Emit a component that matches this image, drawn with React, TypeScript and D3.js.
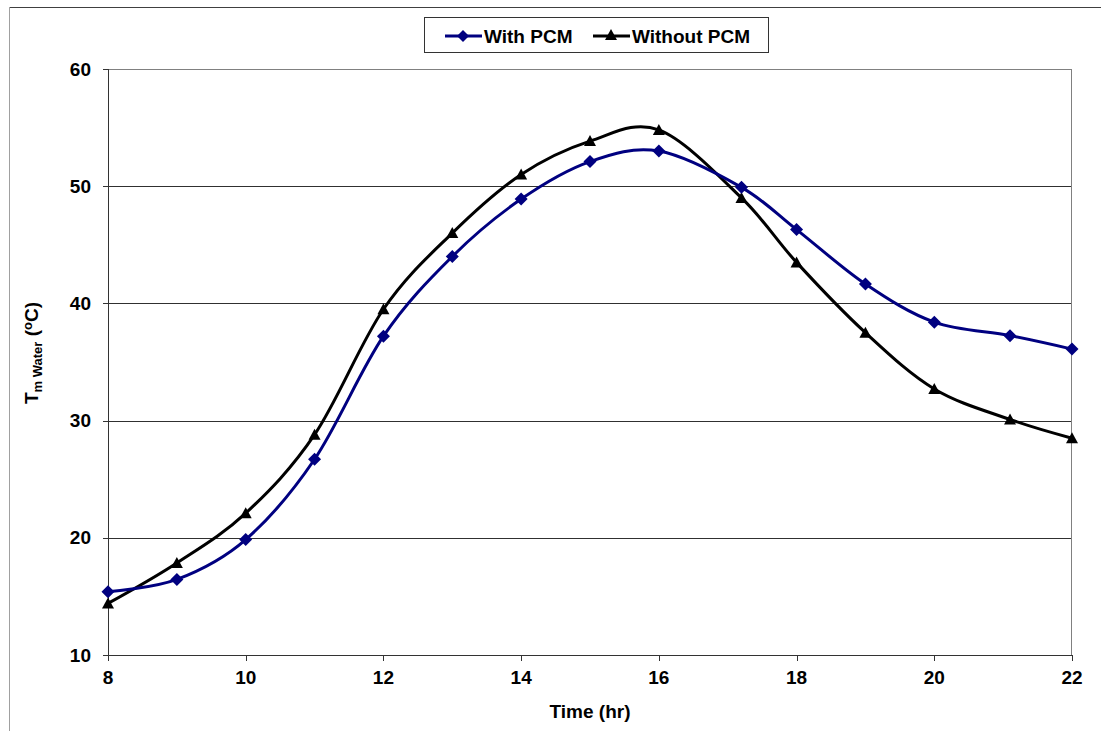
import React from "react";
import * as d3 from "d3";

const hours = [8, 9, 10, 11, 12, 13, 14, 15, 16, 17.2, 18, 19, 20, 21.1, 22];
const withPCM = [15.4, 16.45, 19.85, 26.7, 37.2, 44.0, 48.9, 52.1, 53.0, 49.9, 46.3, 41.65, 38.4, 37.25, 36.1];
const withoutPCM = [14.4, 17.85, 22.1, 28.8, 39.5, 46.0, 51.0, 53.85, 54.8, 49.0, 43.5, 37.5, 32.7, 30.1, 28.5];
const xTicks = [8, 10, 12, 14, 16, 18, 20, 22];
const yTicks = [10, 20, 30, 40, 50, 60];
const seriesNames = ["With PCM", "Without PCM"];

const W = 1101, H = 731;
const L = 108, R = 1072, T = 69, B = 655;
const FONT = "'Liberation Sans', Arial, sans-serif";

export default function App() {
  const x = d3.scaleLinear().domain([8, 22]).range([L, R]);
  const y = d3.scaleLinear().domain([10, 60]).range([B, T]);
  const line = d3
    .line<[number, number]>()
    .x((d) => x(d[0]))
    .y((d) => y(d[1]))
    .curve(d3.curveCatmullRom.alpha(0));
  const ptsA: [number, number][] = hours.map((h, i) => [h, withPCM[i]]);
  const ptsB: [number, number][] = hours.map((h, i) => [h, withoutPCM[i]]);
  const diamond = (cx: number, cy: number, s = 6.5) =>
    `M${cx},${cy - s}L${cx + s},${cy}L${cx},${cy + s}L${cx - s},${cy}Z`;
  const tri = (cx: number, cy: number) =>
    `M${cx},${cy - 6}L${cx + 6},${cy + 5}L${cx - 6},${cy + 5}Z`;

  return (
    <svg
      width={W}
      height={H}
      style={{ position: "absolute", left: 0, top: 0, background: "#fff" }}
      fontFamily={FONT}
    >
      {/* outer frame */}
      <line x1={9.5} y1={7.5} x2={W} y2={7.5} stroke="#404040" strokeWidth={1} />
      <line x1={9.5} y1={7.5} x2={9.5} y2={H} stroke="#a0a0a0" strokeWidth={1} />

      {/* gridlines */}
      {yTicks.filter((t) => t > 10 && t < 60).map((t) => (
        <line key={t} x1={L} x2={R} y1={Math.round(y(t)) + 0.5} y2={Math.round(y(t)) + 0.5} stroke="#303030" strokeWidth={1} />
      ))}
      {/* plot border top/right */}
      <line x1={L} x2={R} y1={T + 0.5} y2={T + 0.5} stroke="#808080" strokeWidth={1} />
      <line x1={R - 0.5} x2={R - 0.5} y1={T} y2={B} stroke="#808080" strokeWidth={1} />

      {/* axes */}
      <line x1={L + 0.5} x2={L + 0.5} y1={T} y2={B + 1} stroke="#333" strokeWidth={1} />
      <line x1={L} x2={R} y1={B + 0.5} y2={B + 0.5} stroke="#333" strokeWidth={1} />
      {yTicks.map((t) => (
        <g key={t}>
          <line x1={L - 5} x2={L} y1={Math.round(y(t)) + 0.5} y2={Math.round(y(t)) + 0.5} stroke="#333" />
          <text x={91} y={y(t)} dy="0.35em" textAnchor="end" fontSize={19} fontWeight="bold">
            {t}
          </text>
        </g>
      ))}
      {xTicks.map((t) => (
        <g key={t}>
          <line x1={Math.round(x(t)) + 0.5} x2={Math.round(x(t)) + 0.5} y1={B} y2={B + 6} stroke="#333" />
          <text x={x(t)} y={684} textAnchor="middle" fontSize={19} fontWeight="bold">
            {t}
          </text>
        </g>
      ))}

      {/* axis titles */}
      <text x={590} y={718} textAnchor="middle" fontSize={19} fontWeight="bold">
        Time (hr)
      </text>
      <text transform="translate(38,353) rotate(-90)" textAnchor="middle" fontSize={19} fontWeight="bold">
        T<tspan fontSize={13} dy={4}>m Water</tspan>
        <tspan dy={-4}> (</tspan>
        <tspan fontSize={13} dy={-6}>o</tspan>
        <tspan dy={6}>C)</tspan>
      </text>

      {/* series lines */}
      <path d={line(ptsB) || ""} fill="none" stroke="#000" strokeWidth={3} />
      <path d={line(ptsA) || ""} fill="none" stroke="#000080" strokeWidth={3} />
      {ptsB.map((p, i) => (
        <path key={"b" + i} d={tri(x(p[0]), y(p[1]))} fill="#000" />
      ))}
      {ptsA.map((p, i) => (
        <path key={"a" + i} d={diamond(x(p[0]), y(p[1]))} fill="#000080" />
      ))}

      {/* legend */}
      <rect x={424.5} y={17.5} width={344} height={35} fill="#fff" stroke="#333" strokeWidth={1} />
      <line x1={445} x2={482} y1={36} y2={36} stroke="#000080" strokeWidth={3} />
      <path d={diamond(463, 36, 6)} fill="#000080" />
      <text x={484} y={36} dy="0.35em" fontSize={19} fontWeight="bold">
        {seriesNames[0]}
      </text>
      <line x1={593} x2={630} y1={36} y2={36} stroke="#000" strokeWidth={3} />
      <path d={tri(611, 35)} fill="#000" />
      <text x={632} y={36} dy="0.35em" fontSize={19} fontWeight="bold">
        {seriesNames[1]}
      </text>
    </svg>
  );
}
